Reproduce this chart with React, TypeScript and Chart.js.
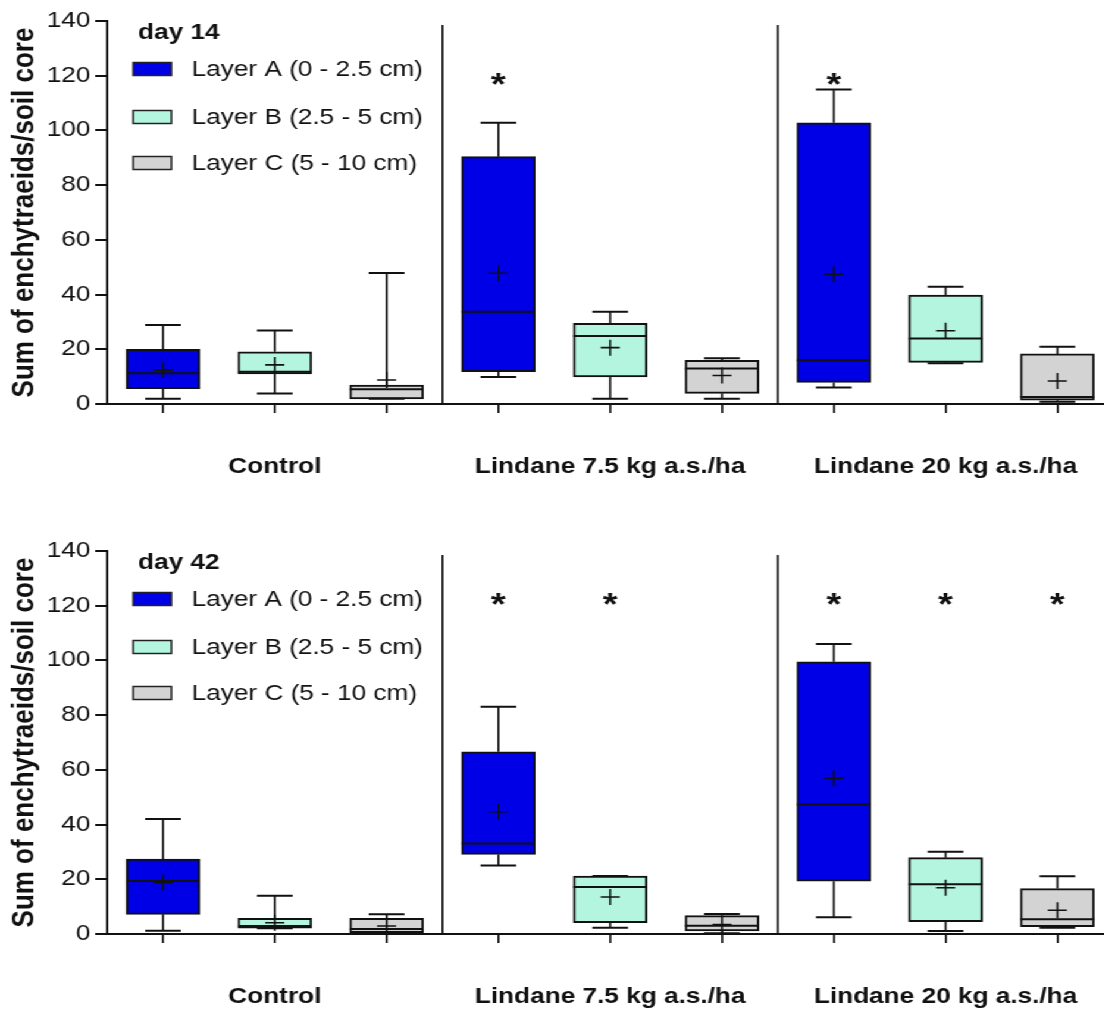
import React, { useEffect, useRef } from 'react';
import { Chart, registerables } from 'chart.js';

Chart.register(...registerables);

// ---------- data ----------
const groups = ['Control', 'Lindane 7.5 kg a.s./ha', 'Lindane 20 kg a.s./ha'];
const layerLabels = ['Layer A (0 - 2.5 cm)', 'Layer B (2.5 - 5 cm)', 'Layer C (5 - 10 cm)'];
const layerColors = ['#0000e6', '#b3f5df', '#d3d3d3'];
const yTickValues = [0, 20, 40, 60, 80, 100, 120, 140];
const yTitle = 'Sum of enchytraeids/soil core';

// rows: Layer A, Layer B, Layer C ; columns: Control, Lindane 7.5, Lindane 20
const day14Min = [
  [1.9, 9.9, 6.0],
  [3.8, 1.9, 14.9],
  [1.9, 1.9, 0.8],
];
const day14Q1 = [
  [5.6, 11.8, 7.9],
  [11.0, 9.9, 15.2],
  [1.9, 3.9, 1.4],
];
const day14Median = [
  [11.2, 33.7, 16.0],
  [11.8, 24.9, 23.9],
  [5.4, 13.0, 2.6],
];
const day14Q3 = [
  [20.0, 90.4, 102.8],
  [19.1, 29.5, 39.8],
  [6.9, 16.0, 18.3],
];
const day14Max = [
  [28.9, 102.8, 115.0],
  [26.9, 33.7, 42.9],
  [47.9, 16.7, 20.9],
];
const day14Mean = [
  [12.4, 47.8, 47.4],
  [14.3, 20.6, 26.8],
  [8.8, 10.4, 8.4],
];
const day14Significant = [
  [false, true, true],
  [false, false, false],
  [false, false, false],
];
const day14StarLevel = 118.3;

const day42Min = [
  [1.2, 25.0, 6.1],
  [2.1, 2.3, 1.1],
  [0.3, 0.3, 2.3],
];
const day42Q1 = [
  [7.2, 29.1, 19.3],
  [2.1, 4.1, 4.5],
  [0.5, 1.1, 2.7],
];
const day42Median = [
  [19.4, 33.1, 47.3],
  [2.9, 17.2, 18.2],
  [1.8, 3.0, 5.4],
];
const day42Q3 = [
  [27.4, 66.6, 99.5],
  [5.7, 21.2, 27.9],
  [5.7, 6.7, 16.6],
];
const day42Max = [
  [42.0, 83.1, 106.0],
  [14.0, 21.2, 30.1],
  [7.2, 7.3, 21.1],
];
const day42Mean = [
  [18.8, 44.7, 56.9],
  [4.1, 13.5, 16.9],
  [2.9, 3.5, 8.7],
];
const day42Significant = [
  [false, true, true],
  [false, true, true],
  [false, false, true],
];
const day42StarLevel = 122;

// ---------- styling / layout ----------
const INK = '#111111';
const FONT = "'Liberation Sans', Arial, sans-serif";
const STRETCH = 1.19; // the original figure is horizontally stretched
const CANVAS_W = 928;
const BOX_PX = 62;
const CAP_PX = 30;

type Panel = {
  title: string;
  min: number[][];
  q1: number[][];
  median: number[][];
  q3: number[][];
  max: number[][];
  mean: number[][];
  sig: boolean[][];
  starLevel: number;
};

const panels: Panel[] = [
  { title: 'day 14', min: day14Min, q1: day14Q1, median: day14Median, q3: day14Q3, max: day14Max, mean: day14Mean, sig: day14Significant, starLevel: day14StarLevel },
  { title: 'day 42', min: day42Min, q1: day42Q1, median: day42Median, q3: day42Q3, max: day42Max, mean: day42Mean, sig: day42Significant, starLevel: day42StarLevel },
];

const xPos = (layer: number, group: number) => group * 3 + layer;

const extrasPlugin = {
  id: 'boxExtras',
  afterDatasetsDraw(chart: any, _args: any, opts: any) {
    const p: Panel = opts.panel;
    const { ctx } = chart;
    const x = chart.scales.x;
    const y = chart.scales.y;
    ctx.save();
    ctx.strokeStyle = INK;
    ctx.fillStyle = INK;
    ctx.lineCap = 'butt';

    // group separators
    ctx.lineWidth = 1.6;
    [2.5, 5.5].forEach((s) => {
      const px = x.getPixelForValue(s);
      ctx.beginPath();
      ctx.moveTo(px, y.getPixelForValue(138.5));
      ctx.lineTo(px, y.getPixelForValue(0));
      ctx.stroke();
    });

    // whiskers and medians
    p.min.forEach((row, li) => {
      row.forEach((mn, gi) => {
        const cx = x.getPixelForValue(xPos(li, gi));
        const pMin = y.getPixelForValue(mn);
        const pMax = y.getPixelForValue(p.max[li][gi]);
        const pQ1 = y.getPixelForValue(p.q1[li][gi]);
        const pQ3 = y.getPixelForValue(p.q3[li][gi]);
        const pMed = y.getPixelForValue(p.median[li][gi]);
        ctx.lineWidth = 1.7;
        ctx.beginPath();
        ctx.moveTo(cx, pQ3);
        ctx.lineTo(cx, pMax);
        ctx.moveTo(cx, pQ1);
        ctx.lineTo(cx, pMin);
        ctx.stroke();
        ctx.lineWidth = 2;
        ctx.beginPath();
        ctx.moveTo(cx - CAP_PX / 2, pMax);
        ctx.lineTo(cx + CAP_PX / 2, pMax);
        ctx.moveTo(cx - CAP_PX / 2, pMin);
        ctx.lineTo(cx + CAP_PX / 2, pMin);
        ctx.moveTo(cx - BOX_PX / 2, pMed);
        ctx.lineTo(cx + BOX_PX / 2, pMed);
        ctx.stroke();
      });
    });

    // significance stars
    ctx.font = `bold 32px ${FONT}`;
    ctx.textAlign = 'center';
    ctx.textBaseline = 'alphabetic';
    p.sig.forEach((row, li) => {
      row.forEach((s, gi) => {
        if (!s) return;
        const cx = x.getPixelForValue(xPos(li, gi));
        const cy = y.getPixelForValue(p.starLevel);
        ctx.fillText('*', cx, cy + 14.5);
      });
    });

    // legend
    ctx.textAlign = 'left';
    ctx.font = `bold 22px ${FONT}`;
    ctx.fillText(p.title, 116, 39);
    ctx.font = `22px ${FONT}`;
    const rowY = [69, 117, 163];
    layerLabels.forEach((lab, i) => {
      ctx.fillStyle = layerColors[i];
      ctx.fillRect(112, rowY[i] - 6.5, 32, 13);
      ctx.lineWidth = 1.5;
      ctx.strokeStyle = '#222';
      ctx.strokeRect(112, rowY[i] - 6.5, 32, 13);
      ctx.fillStyle = INK;
      ctx.textBaseline = 'middle';
      ctx.fillText(lab, 161, rowY[i] + 1);
    });
    ctx.restore();
  },
};

function buildConfig(p: Panel, height: number): any {
  const datasets: any[] = [];
  datasets.push({
    type: 'scatter',
    label: 'mean',
    data: p.mean.flatMap((row, li) => row.map((m, gi) => ({ x: xPos(li, gi), y: m }))),
    pointStyle: 'cross',
    pointRadius: 8,
    borderColor: INK,
    backgroundColor: INK,
    borderWidth: 1.6,
    order: -1,
  });
  layerLabels.forEach((lab, li) => {
    datasets.push({
      type: 'bar',
      label: lab,
      data: p.q1[li].map((q, gi) => ({ x: xPos(li, gi), y: [q, p.q3[li][gi]] })),
      backgroundColor: layerColors[li],
      borderColor: INK,
      borderWidth: 2,
      borderSkipped: false,
      barThickness: BOX_PX,
      grouped: false,
      order: 1,
    });
  });
  return {
    type: 'bar',
    data: { datasets },
    plugins: [extrasPlugin],
    options: {
      animation: false,
      responsive: false,
      devicePixelRatio: 1,
      events: [],
      layout: { autoPadding: false, padding: { top: 21, left: 0, right: 0, bottom: 0 } },
      plugins: {
        legend: { display: false },
        tooltip: { enabled: false },
        title: { display: false },
        boxExtras: { panel: p },
      },
      scales: {
        x: {
          type: 'linear',
          offset: false,
          bounds: 'data',
          min: -0.5,
          max: 8.42,
          afterBuildTicks: (s: any) => {
            s.ticks = [0, 1, 2, 3, 4, 5, 6, 7, 8].map((v) => ({ value: v }));
          },
          afterFit: (s: any) => {
            s.height = height - 404;
            s.paddingLeft = 0;
            s.paddingRight = 0;
          },
          grid: { offset: false, drawOnChartArea: false, drawTicks: true, tickLength: 9, color: INK, lineWidth: 1.7 },
          border: { display: true, color: INK, width: 2 },
          ticks: {
            autoSkip: false,
            maxRotation: 0,
            minRotation: 0,
            padding: 41,
            color: INK,
            font: { family: FONT, size: 22, weight: 'bold' },
            callback: (v: number) => {
              const g = (v - 1) / 3;
              return Number.isInteger(g) ? groups[g] : '';
            },
          },
        },
        y: {
          min: 0,
          max: 140,
          afterBuildTicks: (s: any) => {
            s.ticks = yTickValues.map((v) => ({ value: v }));
          },
          afterFit: (s: any) => {
            s.width = 90;
            s.paddingTop = 0;
            s.paddingBottom = 0;
          },
          grid: { drawOnChartArea: false, drawTicks: true, tickLength: 10, color: INK, lineWidth: 2 },
          border: { display: true, color: INK, width: 2 },
          ticks: { padding: 4, color: INK, font: { family: FONT, size: 22 } },
          title: {
            display: true,
            text: yTitle,
            color: INK,
            font: { family: FONT, size: 26, weight: 'bold' },
            padding: { top: 5, bottom: 0 },
          },
        },
      },
    },
  };
}

function PanelChart({ panel, height, top }: { panel: Panel; height: number; top: number }) {
  const ref = useRef<HTMLCanvasElement>(null);
  useEffect(() => {
    const chart = new Chart(ref.current as HTMLCanvasElement, buildConfig(panel, height));
    return () => chart.destroy();
  }, [panel, height]);
  return (
    <canvas
      ref={ref}
      width={CANVAS_W}
      height={height}
      style={{ position: 'absolute', left: 0, top }}
    />
  );
}

export default function App() {
  return (
    <div
      style={{
        position: 'absolute',
        left: 0,
        top: 0,
        width: CANVAS_W,
        height: 1012,
        background: '#fff',
        transform: `scaleX(${STRETCH})`,
        transformOrigin: '0 0',
      }}
    >
      <PanelChart panel={panels[0]} height={530} top={0} />
      <PanelChart panel={panels[1]} height={482} top={530} />
    </div>
  );
}
